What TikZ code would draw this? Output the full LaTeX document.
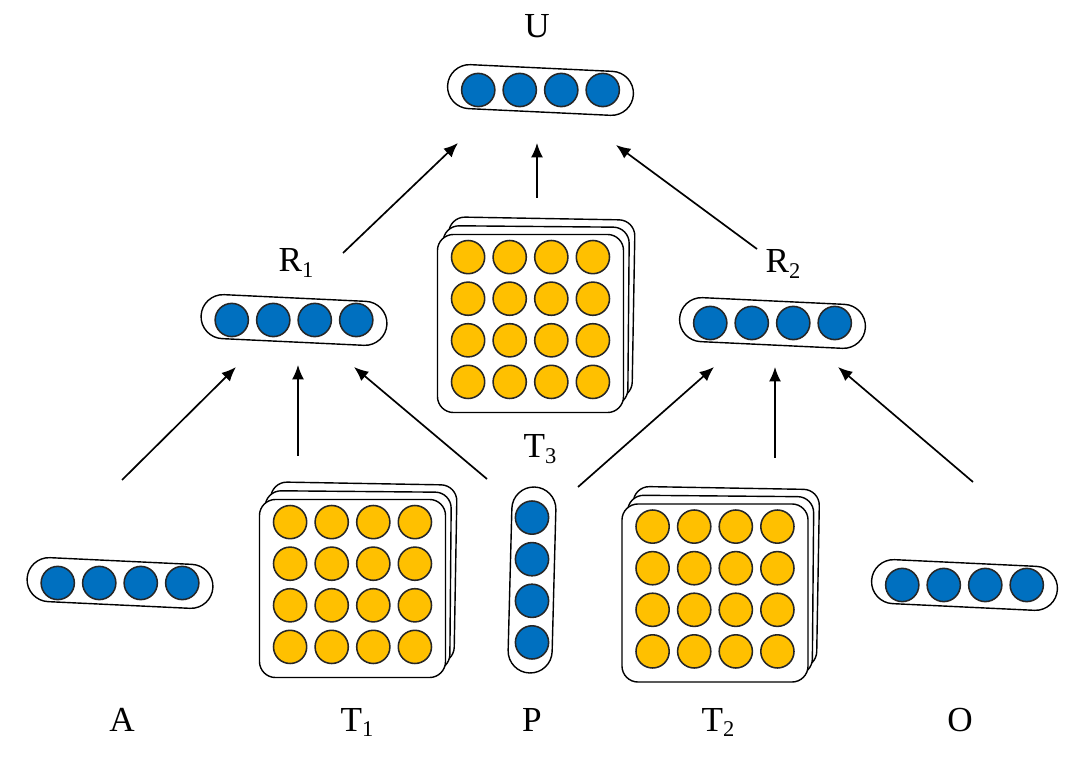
\documentclass[tikz,border=0pt]{standalone}
\usepackage{fontspec}
\setmainfont{Liberation Serif}
\usetikzlibrary{arrows.meta}
\definecolor{cblue}{HTML}{0070C0}
\definecolor{cyel}{HTML}{FFC000}
\newcommand{\lsub}[1]{{\fontsize{16}{16}\selectfont\raisebox{-0.25em}{#1}}}
\newcommand{\vecrow}[4]{%
  \node[vecbox,rotate=#4] (#1) at (#2,#3) {};
  \foreach \i in {1,2,3,4} \node[bunit] (#1c\i) at ({#2+(\i-2.5)*41.5},#3) {};%
}
\newcommand{\tensorstack}[3]{%
  \node[layer,rotate=-1] (#1b) at ({#2+10},{#3+4-16}) {};
  \node[layer,rotate=-0.5] (#1m) at ({#2+5},{#3+4-8}) {};
  \node[layer] (#1) at (#2,{#3+4}) {};
  \foreach \i in {1,2,3,4} \foreach \j in {1,2,3,4}
    \node[yunit] (#1c\i\j) at ({#2+(\i-2.5)*41.6},{#3+(\j-2.5)*41.6}) {};%
}
\begin{document}
\begin{tikzpicture}[x=0.025cm,y=-0.025cm,
  vecbox/.style={draw=black,line width=1pt,rounded corners=0.55cm,minimum width=4.65cm,minimum height=1.1cm,inner sep=0pt},
  bunit/.style={circle,draw=black!85,line width=1.1pt,fill=cblue,minimum size=0.83cm,inner sep=0pt},
  yunit/.style={circle,draw=black!85,line width=1.1pt,fill=cyel,minimum size=0.83cm,inner sep=0pt},
  layer/.style={draw=black,line width=1pt,fill=white,rounded corners=0.4cm,minimum width=4.65cm,minimum height=4.45cm,inner sep=0pt},
  lbl/.style={font=\fontsize{25}{30}\selectfont,anchor=base,inner sep=0pt},
  arr/.style={line width=1.2pt,-{Latex[length=0.36cm,width=0.3cm]}}
]
\useasboundingbox[fill=white] (0,0) rectangle (1080,760);

% vectors
\vecrow{U}{540.5}{90}{-2.7}
\vecrow{R1}{294}{320}{-2.7}
\vecrow{R2}{772.5}{323}{-2.7}
\vecrow{A}{120}{583}{-2.7}
\vecrow{O}{964.5}{585}{-2.7}

% P vertical vector
\node[vecbox,rotate=88.5] (P) at (532,580) {};
\foreach \j in {1,2,3,4} \node[bunit] (Pc\j) at (532,{580+(\j-2.5)*41.6}) {};

% tensors
\tensorstack{T3}{530.5}{319.5}
\tensorstack{T1}{352.5}{584.5}
\tensorstack{T2}{715}{589}

% labels
\node[lbl] (lU) at (537,38) {U};
\node[lbl] (lR1) at (296,272) {R\lsub{1}};
\node[lbl] (lR2) at (783,273) {R\lsub{2}};
\node[lbl] (lT3) at (540,458) {T\lsub{3}};
\node[lbl] (lA) at (122,731) {A};
\node[lbl] (lT1) at (357,731) {T\lsub{1}};
\node[lbl] (lP) at (532,731) {P};
\node[lbl] (lT2) at (718,731) {T\lsub{2}};
\node[lbl] (lO) at (960,731) {O};

% arrow end points
\coordinate (r1u-s) at (343,253);
\coordinate (r1u-e) at (458,143);
\coordinate (t3u-s) at (537,198);
\coordinate (t3u-e) at (537,143);
\coordinate (r2u-s) at (757,249);
\coordinate (r2u-e) at (616,145);
\coordinate (ar1-s) at (122,480);
\coordinate (ar1-e) at (236,367);
\coordinate (t1r1-s) at (298,456);
\coordinate (t1r1-e) at (298,365);
\coordinate (pr1-s) at (487,479);
\coordinate (pr1-e) at (354,367);
\coordinate (pr2-s) at (578,487);
\coordinate (pr2-e) at (714,367);
\coordinate (t2r2-s) at (775,458);
\coordinate (t2r2-e) at (775,367);
\coordinate (or2-s) at (973,482);
\coordinate (or2-e) at (838,367);

\draw[arr] (r1u-s) -- (r1u-e);
\draw[arr] (t3u-s) -- (t3u-e);
\draw[arr] (r2u-s) -- (r2u-e);
\draw[arr] (ar1-s) -- (ar1-e);
\draw[arr] (t1r1-s) -- (t1r1-e);
\draw[arr] (pr1-s) -- (pr1-e);
\draw[arr] (pr2-s) -- (pr2-e);
\draw[arr] (t2r2-s) -- (t2r2-e);
\draw[arr] (or2-s) -- (or2-e);
\end{tikzpicture}
\end{document}
